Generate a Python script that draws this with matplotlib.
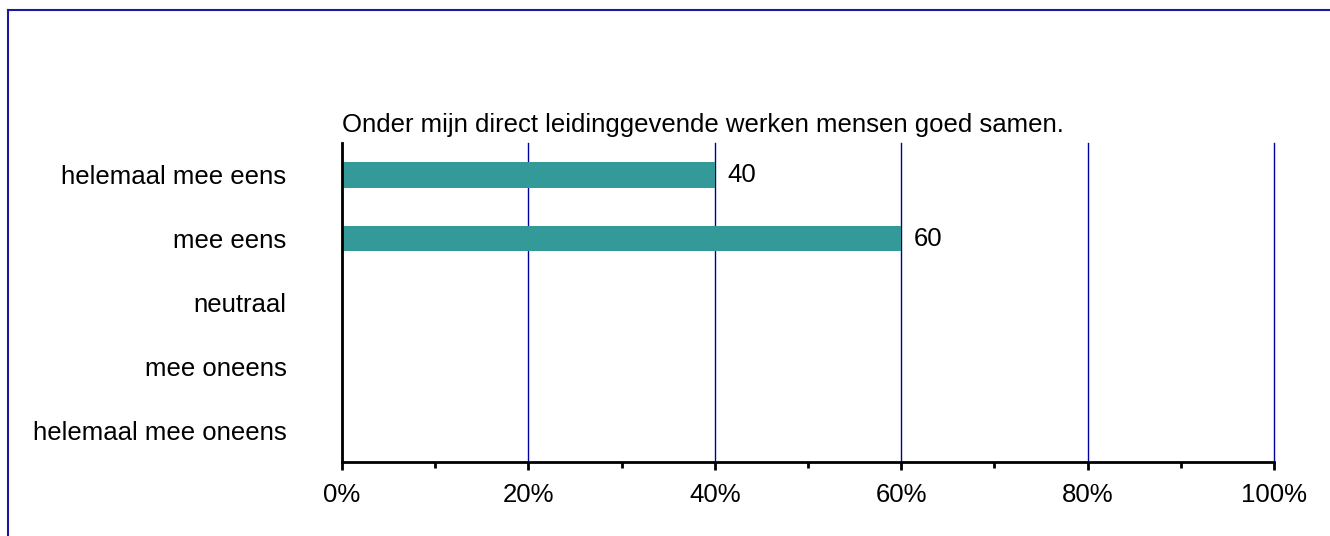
import matplotlib
matplotlib.use("Agg")
import matplotlib.pyplot as plt
from matplotlib.lines import Line2D
from matplotlib.ticker import MultipleLocator, FuncFormatter

plt.rcParams['font.family'] = ['Liberation Sans', 'DejaVu Sans']

title = "Onder mijn direct leidinggevende werken mensen goed samen."
categories = ["helemaal mee eens", "mee eens", "neutraal", "mee oneens",
              "helemaal mee oneens"]
percentages = [40, 60, 0, 0, 0]

fs = 18.5
fig = plt.figure(figsize=(13.3, 5.36), dpi=100)
ax = fig.add_axes([342 / 1330, 1 - 462 / 536, 932 / 1330, 319 / 536])

ypos = list(range(len(categories)))
ax.barh(ypos, percentages, height=0.4, color='#339a99', zorder=3)
for y, v in zip(ypos, percentages):
    if v > 0:
        ax.annotate(str(v), (v, y), xytext=(9, 0), textcoords='offset points',
                    va='center', ha='left', fontsize=fs)

ax.set_xlim(0, 100)
ax.set_ylim(len(categories) - 0.5, -0.5)
ax.set_yticks(ypos)
ax.set_yticklabels(categories, fontsize=fs)
ax.tick_params(axis='y', length=0, pad=40)

ax.xaxis.set_major_locator(MultipleLocator(20))
ax.xaxis.set_minor_locator(MultipleLocator(10))
ax.xaxis.set_major_formatter(FuncFormatter(lambda x, p: "%d%%" % x))
ax.tick_params(axis='x', which='major', length=6, width=2, pad=9,
               labelsize=fs)
ax.tick_params(axis='x', which='minor', length=4, width=2)
ax.grid(axis='x', color='#0000a0', linewidth=1, zorder=1)
for gl in ax.get_xgridlines():
    gl.set_clip_on(False)

for s in ['top', 'right']:
    ax.spines[s].set_visible(False)
for s in ['left', 'bottom']:
    ax.spines[s].set_linewidth(2)
    ax.spines[s].set_zorder(4)

ax.text(0, 1.02, title, transform=ax.transAxes, fontsize=fs,
        ha='left', va='bottom')

# outer frame (left and top edges only)
fig.add_artist(Line2D([8 / 1330, 8 / 1330], [0, 1 - 10 / 536],
                      color='#1a1aa0', linewidth=1.5))
fig.add_artist(Line2D([8 / 1330, 1], [1 - 10 / 536, 1 - 10 / 536],
                      color='#1a1aa0', linewidth=1.5))

fig.savefig("out.png", dpi=100)
